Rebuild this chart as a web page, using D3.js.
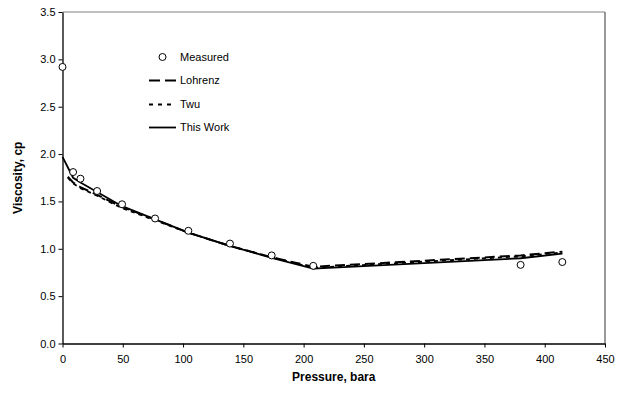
<!DOCTYPE html>
<html>
<head>
<meta charset="utf-8">
<script src="https://cdn.jsdelivr.net/npm/d3@7"></script>
<style>
  html, body { margin: 0; padding: 0; background: #fff; }
  svg { display: block; font-family: "Liberation Sans", Arial, sans-serif; }
</style>
</head>
<body>
<svg id="chart" width="630" height="393"></svg>
<script>
// Measured viscosity vs. pressure
const measuredP = [0, 8.8, 14.9, 28.7, 49.4, 76.8, 104.4, 138.9, 173.5, 208, 380, 414.6];
const measuredV = [2.92, 1.81, 1.74, 1.61, 1.47, 1.32, 1.19, 1.055, 0.93, 0.82, 0.83, 0.86];

// Model predictions
const lohrenzP = [4.4, 8.8, 14.9, 28.7, 49.4, 76.8, 104.4, 138.9, 173.5, 208, 380, 414.6];
const lohrenzV = [1.76, 1.70, 1.65, 1.57, 1.44, 1.31, 1.17, 1.03, 0.91, 0.81, 0.93, 0.97];

const twuP = [4.4, 8.8, 14.9, 28.7, 49.4, 76.8, 104.4, 138.9, 173.5, 208, 380, 414.6];
const twuV = [1.75, 1.69, 1.64, 1.56, 1.43, 1.30, 1.17, 1.03, 0.91, 0.80, 0.92, 0.96];

const thisWorkP = [0, 8.8, 14.9, 28.7, 49.4, 76.8, 104.4, 138.9, 173.5, 208, 380, 414.6];
const thisWorkV = [1.97, 1.75, 1.70, 1.60, 1.45, 1.31, 1.17, 1.03, 0.905, 0.79, 0.90, 0.95];

const xTicks = [0, 50, 100, 150, 200, 250, 300, 350, 400, 450];
const yTicks = [0, 0.5, 1.0, 1.5, 2.0, 2.5, 3.0, 3.5];

(function draw() {
  const svg = d3.select("#chart");
  const plotLeft = 62.5, plotRight = 605, plotTop = 12, plotBottom = 343.5;

  const x = d3.scaleLinear().domain([0, 450]).range([plotLeft, plotRight]);
  const y = d3.scaleLinear().domain([0, 3.5]).range([plotBottom, plotTop]);

  // Frame: top and right edges
  svg.append("line").attr("x1", plotLeft).attr("x2", plotRight).attr("y1", plotTop).attr("y2", plotTop)
    .attr("stroke", "#808080").attr("stroke-width", 1);
  svg.append("line").attr("x1", plotRight).attr("x2", plotRight).attr("y1", plotTop).attr("y2", plotBottom)
    .attr("stroke", "#808080").attr("stroke-width", 1.6);

  // Axes
  const xAxis = svg.append("g").attr("transform", `translate(0,${plotBottom})`)
    .call(d3.axisBottom(x).tickValues(xTicks).tickFormat(d3.format("d")).tickSize(4).tickSizeOuter(0));
  const yAxis = svg.append("g").attr("transform", `translate(${plotLeft},0)`)
    .call(d3.axisLeft(y).tickValues(yTicks).tickFormat(d3.format(".1f")).tickSize(4).tickSizeOuter(0));

  [xAxis, yAxis].forEach(g => {
    g.select(".domain").attr("stroke", "#000").attr("stroke-width", 1.3);
    g.selectAll(".tick line").attr("stroke", "#000");
    g.selectAll(".tick text").attr("fill", "#000").style("font-size", "11px")
      .style("font-family", "Liberation Sans, Arial, sans-serif");
  });
  xAxis.selectAll(".tick text").attr("dy", "1.15em");
  yAxis.selectAll(".tick text").attr("x", -7);

  // Axis titles
  svg.append("text").attr("x", (plotLeft + plotRight) / 2).attr("y", 381)
    .attr("text-anchor", "middle").style("font-size", "12px").style("font-weight", "bold")
    .text("Pressure, bara");
  svg.append("text")
    .attr("transform", `translate(22,${(plotTop + plotBottom) / 2}) rotate(-90)`)
    .attr("text-anchor", "middle").style("font-size", "12px").style("font-weight", "bold")
    .text("Viscosity, cp");

  const line = d3.line().x(d => x(d[0])).y(d => y(d[1]));
  const zip = (a, b) => a.map((v, i) => [v, b[i]]);

  const series = [
    { name: "Lohrenz", p: lohrenzP, v: lohrenzV, dash: "10,5", legendDash: "11,5", width: 2 },
    { name: "Twu", p: twuP, v: twuV, dash: "4,4", legendDash: "4,5", width: 1.8 },
    { name: "This Work", p: thisWorkP, v: thisWorkV, dash: null, legendDash: null, width: 1.8 }
  ];

  series.forEach(s => {
    svg.append("path").datum(zip(s.p, s.v))
      .attr("d", line).attr("fill", "none").attr("stroke", "#000")
      .attr("stroke-width", s.width)
      .attr("stroke-dasharray", s.dash);
  });

  // Measured points
  svg.append("g").selectAll("circle").data(zip(measuredP, measuredV)).join("circle")
    .attr("cx", d => x(d[0])).attr("cy", d => y(d[1])).attr("r", 3.5)
    .attr("fill", "#fff").attr("stroke", "#000").attr("stroke-width", 1);

  // Legend
  const legend = svg.append("g").style("font-size", "11px");
  const ly = [57, 80.5, 104.5, 127.5];
  legend.append("circle").attr("cx", 162.5).attr("cy", ly[0]).attr("r", 3.5)
    .attr("fill", "#fff").attr("stroke", "#000");
  legend.append("text").attr("x", 180).attr("y", ly[0]).attr("dy", "0.35em").text("Measured");
  series.forEach((s, i) => {
    legend.append("line").attr("x1", 149).attr("x2", 176).attr("y1", ly[i + 1]).attr("y2", ly[i + 1])
      .attr("stroke", "#000").attr("stroke-width", s.width)
      .attr("stroke-dasharray", s.legendDash);
    legend.append("text").attr("x", 180).attr("y", ly[i + 1]).attr("dy", "0.35em").text(s.name);
  });
})();
</script>
</body>
</html>
